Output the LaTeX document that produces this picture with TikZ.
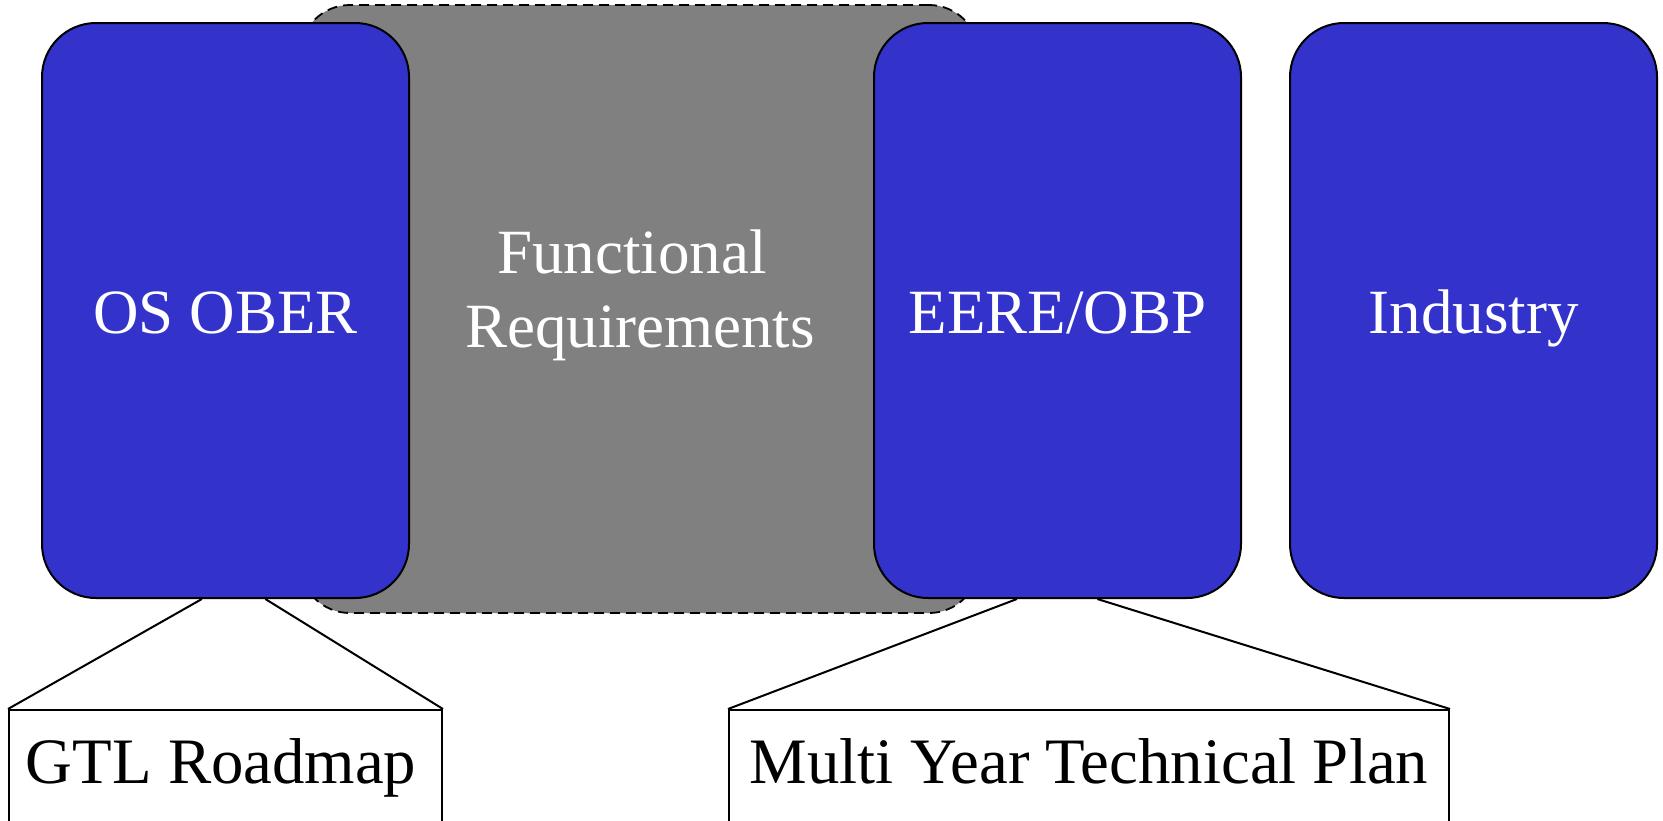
\documentclass[tikz,border=0pt]{standalone}
\usepackage{fontspec}
\setmainfont{Liberation Serif}
\usetikzlibrary{calc}
\definecolor{boxblue}{HTML}{3333CC}
\definecolor{reqgray}{HTML}{808080}
\tikzset{
  bigfont/.style={font=\fontsize{31.5pt}{37pt}\selectfont},
  planfont/.style={font=\fontsize{32.4pt}{38pt}\selectfont},
  bluebox/.style={draw=black, line width=1pt, fill=boxblue, rounded corners=27pt,
    minimum width=183.5pt, minimum height=287.5pt, inner sep=0pt, text=white, bigfont,
    text height=20.8pt, text depth=0pt},
  graybox/.style={draw=black, line width=0.9pt, dash pattern=on 5pt off 3pt, fill=reqgray,
    rounded corners=25pt, minimum width=339.5pt, minimum height=304pt, inner sep=0pt},
  graytext/.style={text=white, bigfont, align=center, inner sep=0pt, anchor=base},
  planbox/.style={draw=black, line width=1pt, fill=white, minimum height=58pt, inner sep=0pt,
    planfont, text height=22.3pt, text depth=7.1pt},
  link/.style={draw=black, line width=1pt}
}
\begin{document}
\begin{tikzpicture}[x=0.5pt, y=-0.5pt]
\useasboundingbox (0,0) rectangle (1663,820);
\node[graybox] (fr) at (639.5,309) {};
\node[graytext] (frtext) at (640,347) {Functional\hbox to 0.25em{}\\Requirements};
\node[bluebox] (oser) at (225.5,310.5) {\raisebox{-1pt}{OS OBER}};
\node[bluebox] (eere) at (1057.5,310.5) {\raisebox{-1pt}{EERE/OBP}};
\node[bluebox] (ind) at (1473.5,310.5) {\raisebox{-1pt}{Industry}};
\node[planbox, minimum width=216.5pt] (gtl) at (225.5,768) {\kern-4.4pt GTL Roadmap};
\node[planbox, minimum width=360pt] (mytp) at (1089,768) {Multi Year Technical Plan};
\draw[link] ($(oser.south west)!0.436!(oser.south east)$) -- (gtl.north west);
\draw[link] ($(oser.south west)!0.608!(oser.south east)$) -- (gtl.north east);
\draw[link] ($(eere.south west)!0.39!(eere.south east)$) -- (mytp.north west);
\draw[link] ($(eere.south west)!0.608!(eere.south east)$) -- (mytp.north east);
\end{tikzpicture}
\end{document}
